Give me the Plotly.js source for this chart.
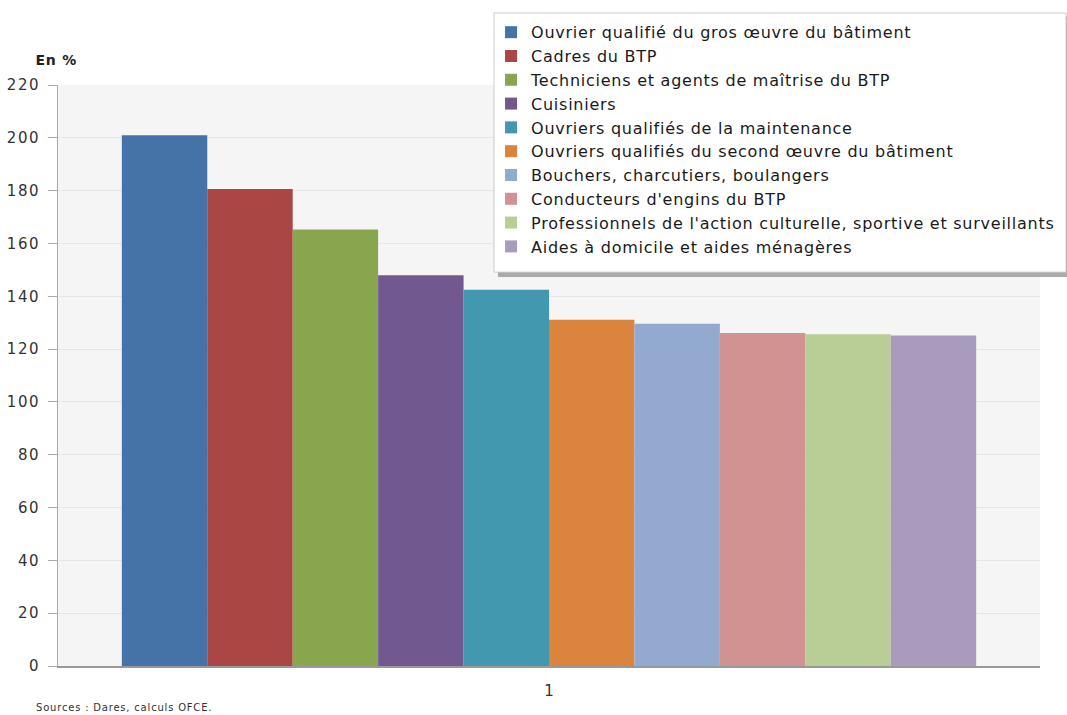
<!DOCTYPE html>
<html>
<head>
<meta charset="utf-8">
<script src="https://cdn.plot.ly/plotly-3.0.1.min.js"></script>
<style>
html,body{margin:0;padding:0;background:#fff;}
#chart{width:1067px;height:715px;}
#chart .legendtext{letter-spacing:0.75px;}
#chart .legend .scrollbox{clip-path:none !important;}
#chart .ytick text{letter-spacing:1.5px;}
#chart .annotation-text{letter-spacing:0.8px;}
</style>
</head>
<body>
<div id="chart"></div>
<script>
const categories = ["1"];
const seriesNames = [
  "Ouvrier qualifié du gros œuvre du bâtiment",
  "Cadres du BTP",
  "Techniciens et agents de maîtrise du BTP",
  "Cuisiniers",
  "Ouvriers qualifiés de la maintenance",
  "Ouvriers qualifiés du second œuvre du bâtiment",
  "Bouchers, charcutiers, boulangers",
  "Conducteurs d'engins du BTP",
  "Professionnels de l'action culturelle, sportive et surveillants",
  "Aides à domicile et aides ménagères"
];
const seriesValues = [201, 180.6, 165.3, 148, 142.5, 131.1, 129.6, 126.1, 125.6, 125.1];
const seriesColors = ["#4572A7", "#AA4643", "#89A54E", "#71588F", "#4198AF", "#DB843D", "#93A9CF", "#D19392", "#B9CD96", "#A99BBD"];
const yTicks = [0, 20, 40, 60, 80, 100, 120, 140, 160, 180, 200, 220];

const FONT = "'DejaVu Sans', 'Open Sans', sans-serif";
const traces = seriesNames.map((name, i) => ({
  type: "bar",
  name: name,
  x: categories,
  y: [seriesValues[i]],
  marker: {color: seriesColors[i], line: {width: 0}},
  hoverinfo: "name+y"
}));

const layout = {
  width: 1067, height: 715,
  margin: {l: 58, r: 27, t: 85, b: 49},
  paper_bgcolor: "#ffffff",
  plot_bgcolor: "#f5f5f5",
  barmode: "group",
  bargap: 0.13,
  bargroupgap: 0,
  showlegend: true,
  font: {family: FONT, color: "#333"},
  xaxis: {
    type: "category",
    showline: true, linecolor: "#999", linewidth: 2,
    showgrid: false, ticks: "",
    ticklabelstandoff: 10,
    tickfont: {size: 15, color: "#333"},
    fixedrange: true
  },
  yaxis: {
    range: [0, 220],
    tickvals: yTicks,
    showline: true, linecolor: "#aaa", linewidth: 1,
    showgrid: true, gridcolor: "#e6e6e6", gridwidth: 1,
    zeroline: false,
    ticks: "outside", ticklen: 9, tickcolor: "#aaa",
    ticklabelstandoff: 5,
    tickfont: {size: 15, color: "#333"},
    fixedrange: true
  },
  legend: {
    x: 0.441, y: 1.12, xanchor: "left", yanchor: "top",
    bgcolor: "rgba(0,0,0,0)", borderwidth: 0,
    font: {size: 16, color: "#1a1a1a", family: FONT},
    traceorder: "normal",
    itemwidth: 30
  },
  shapes: [
    {type: "rect", xref: "paper", yref: "paper", layer: "above",
     x0: 0.448, x1: 1.0295, y0: 0.6695, y1: 1.118,
     fillcolor: "#aaaaaa", line: {width: 0}},
    {type: "rect", xref: "paper", yref: "paper", layer: "above",
     x0: 0.444, x1: 1.0265, y0: 0.678, y1: 1.124,
     fillcolor: "#ffffff", line: {color: "#cccccc", width: 1}}
  ],
  annotations: [
    {text: "<b>En %</b>", xref: "paper", yref: "paper", x: -0.0234, y: 1.043, xanchor: "left", yanchor: "middle", showarrow: false, font: {size: 14, color: "#222", family: FONT}},
    {text: "Sources : Dares, calculs OFCE.", xref: "paper", yref: "paper", x: -0.0118, y: -0.072, xanchor: "left", yanchor: "middle", showarrow: false, font: {size: 10, color: "#333", family: FONT}}
  ]
};

Plotly.newPlot("chart", traces, layout, {displayModeBar: false, staticPlot: true});
</script>
</body>
</html>
